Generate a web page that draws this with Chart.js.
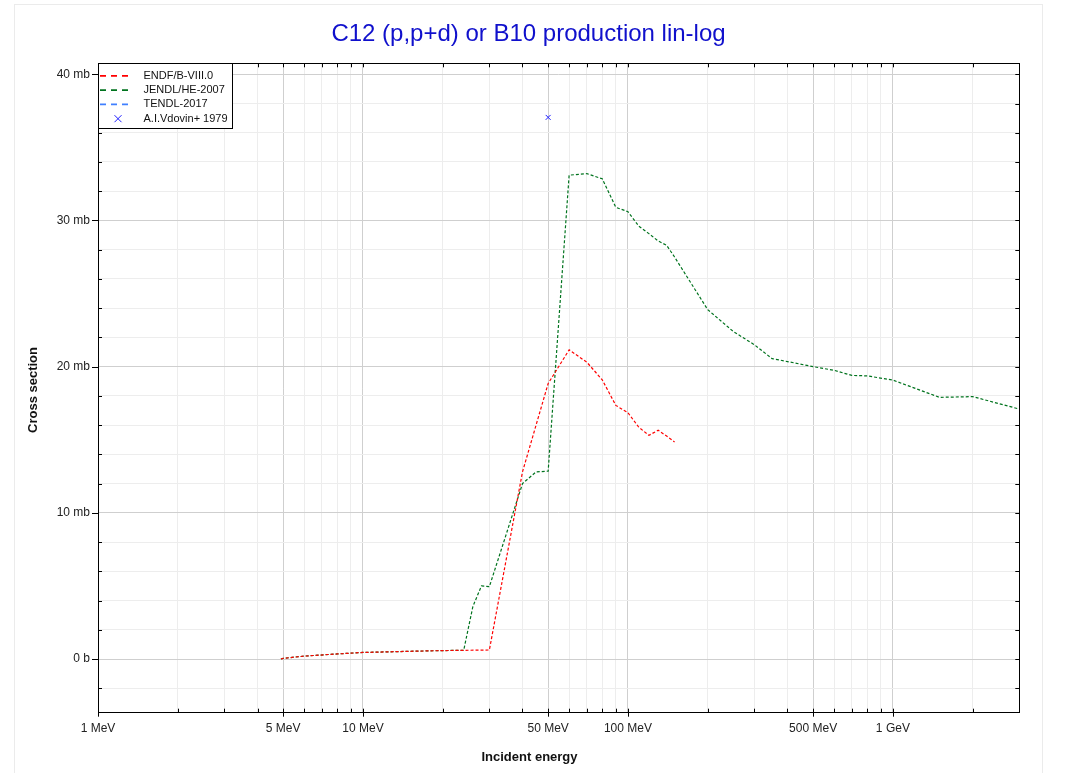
<!DOCTYPE html>
<html>
<head>
<meta charset="utf-8">
<script src="https://cdn.jsdelivr.net/npm/chart.js@4.4.1/dist/chart.umd.min.js"></script>
<style>
  html, body { margin: 0; padding: 0; background: #fff; overflow: hidden; }
  #wrap { position: absolute; left: 14px; top: 4px; width: 1027px; height: 800px; border: 1px solid #ebebeb; }
  canvas { display: block; }
</style>
</head>
<body>
<div id="wrap"><canvas id="c" width="1027" height="768"></canvas></div>
<script>
// ---- Data (energies in MeV, cross sections in mb) ----
const titleText = 'C12 (p,p+d) or B10 production lin-log';
const xAxisTitle = 'Incident energy';
const yAxisTitle = 'Cross section';

const endfLabel = 'ENDF/B-VIII.0';
const endfE  = [4.9, 5, 6, 8, 10, 15, 20, 25, 30, 40, 50, 60, 70, 80, 90, 100, 110, 120, 130, 140, 150];
const endfXS = [0, 0.05, 0.2, 0.35, 0.45, 0.53, 0.58, 0.6, 0.62, 12.8, 18.85, 21.15, 20.3, 19.1, 17.35, 16.85, 15.85, 15.3, 15.65, 15.25, 14.85];

const jendlLabel = 'JENDL/HE-2007';
const jendlE  = [4.9, 5, 6, 8, 10, 15, 20, 24, 26, 28, 30, 40, 45, 50, 60, 70, 80, 90, 100, 110, 120, 130, 140, 150, 200, 250, 300, 350, 400, 500, 600, 700, 800, 1000, 1500, 2000, 3000];
const jendlXS = [0, 0.05, 0.2, 0.35, 0.45, 0.53, 0.58, 0.6, 3.6, 5.0, 4.95, 12.0, 12.8, 12.85, 33.1, 33.2, 32.85, 30.9, 30.6, 29.6, 29.1, 28.6, 28.3, 27.5, 23.9, 22.4, 21.5, 20.55, 20.35, 20.0, 19.75, 19.4, 19.37, 19.08, 17.9, 17.95, 17.1];

const tendlLabel = 'TENDL-2017';
const tendlE  = [];
const tendlXS = [];

const vdovinLabel = 'A.I.Vdovin+ 1979';
const vdovinE  = [50];
const vdovinXS = [37.05];

const xTickValues = [1,2,3,4,5,6,7,8,9,10,20,30,40,50,60,70,80,90,100,200,300,400,500,600,700,800,900,1000,2000,3000];
const xLabeled = [1, 5, 10, 50, 100, 500, 1000];
const yTickValues = [-2,0,2,4,6,8,10,12,14,16,18,20,22,24,26,28,30,32,34,36,38,40];
const yLabeled = [0, 10, 20, 30, 40];

// ---- Styles ----
const FONT = "'Liberation Sans', Arial, Helvetica, sans-serif";
const cRed = 'rgb(255,0,0)';
const cGreen = 'rgb(0,115,30)';
const cBlue = 'rgb(64,128,255)';
const cMark = 'rgb(30,30,255)';
const gridMajor = '#cfcfcf';
const gridMinor = '#ededed';

const toXY = (xs, ys) => xs.map((x, i) => ({ x: x, y: ys[i] }));
const fmtX = v => v >= 1000 ? (v / 1000) + ' GeV' : v + ' MeV';
const fmtY = v => v === 0 ? '0 b' : v + ' mb';

const frameAndLegend = {
  id: 'frameAndLegend',
  afterDatasetsDraw(chart) {
    const ctx = chart.ctx;
    const a = chart.chartArea;
    const xs = chart.scales.x, ys = chart.scales.y;
    ctx.save();
    ctx.strokeStyle = '#000';
    ctx.lineWidth = 1;
    ctx.setLineDash([]);
    // frame
    ctx.strokeRect(Math.round(a.left) + 0.5, Math.round(a.top) + 0.5, Math.round(a.right - a.left), Math.round(a.bottom - a.top));
    // x ticks
    ctx.beginPath();
    xTickValues.forEach(v => {
      const px = Math.round(xs.getPixelForValue(v)) + 0.5;
      const major = xLabeled.includes(v);
      ctx.moveTo(px, a.bottom - 4); ctx.lineTo(px, a.bottom + (major ? 4 : 0));
      ctx.moveTo(px, a.top); ctx.lineTo(px, a.top + 4);
    });
    // y ticks
    yTickValues.forEach(v => {
      const py = Math.round(ys.getPixelForValue(v)) + 0.5;
      const major = yLabeled.includes(v);
      if (major) { ctx.moveTo(a.left - 6, py); ctx.lineTo(a.left, py); }
      else { ctx.moveTo(a.left, py); ctx.lineTo(a.left + 4, py); }
      ctx.moveTo(a.right - 4, py); ctx.lineTo(a.right, py);
    });
    ctx.stroke();

    // legend box
    const lx = Math.round(a.left) + 0.5, ly = Math.round(a.top) + 0.5;
    const lw = 134, lh = 65;
    ctx.fillStyle = '#fff';
    ctx.fillRect(lx, ly, lw, lh);
    ctx.strokeRect(lx, ly, lw, lh);
    const items = chart.data.datasets;
    ctx.font = '11px ' + FONT;
    ctx.textBaseline = 'middle';
    ctx.textAlign = 'left';
    items.forEach((ds, i) => {
      const ry = a.top + 12.5 + i * 14.3;
      if (ds.showLine === false) {
        ctx.strokeStyle = ds.borderColor;
        ctx.lineWidth = 1;
        ctx.setLineDash([]);
        const cx = a.left + 20, s = 3.5;
        ctx.beginPath();
        ctx.moveTo(cx - s, ry - s); ctx.lineTo(cx + s, ry + s);
        ctx.moveTo(cx - s, ry + s); ctx.lineTo(cx + s, ry - s);
        ctx.stroke();
      } else {
        ctx.strokeStyle = ds.borderColor;
        ctx.lineWidth = 1.8;
        ctx.setLineDash([6, 5]);
        ctx.beginPath();
        ctx.moveTo(a.left + 2, ry); ctx.lineTo(a.left + 33, ry);
        ctx.stroke();
      }
      ctx.fillStyle = '#111';
      ctx.fillText(ds.label, a.left + 45.5, ry);
    });
    ctx.restore();
  },
  afterDraw(chart) {
    const ctx = chart.ctx;
    ctx.save();
    // chart title, centred on the whole canvas
    ctx.fillStyle = '#1010cc';
    ctx.font = '24px ' + FONT;
    ctx.textAlign = 'center';
    ctx.textBaseline = 'middle';
    ctx.fillText(titleText, chart.width / 2, 29.5);
    // axis titles
    ctx.fillStyle = '#111';
    ctx.font = 'bold 13px ' + FONT;
    ctx.fillText(xAxisTitle, chart.width / 2 + 1, 752);
    ctx.translate(18, 385);
    ctx.rotate(-Math.PI / 2);
    ctx.fillText(yAxisTitle, 0, 0);
    ctx.restore();
  }
};

Chart.defaults.font.family = FONT;

new Chart(document.getElementById('c'), {
  type: 'scatter',
  data: {
    datasets: [
      { label: endfLabel, data: toXY(endfE, endfXS), showLine: true, borderColor: cRed, backgroundColor: cRed,
        borderWidth: 1.2, borderDash: [3, 2], pointRadius: 0, tension: 0 },
      { label: jendlLabel, data: toXY(jendlE, jendlXS), showLine: true, borderColor: cGreen, backgroundColor: cGreen,
        borderWidth: 1.2, borderDash: [3, 2], pointRadius: 0, tension: 0 },
      { label: tendlLabel, data: toXY(tendlE, tendlXS), showLine: true, borderColor: cBlue, backgroundColor: cBlue,
        borderWidth: 1.2, borderDash: [3, 2], pointRadius: 0, tension: 0 },
      { label: vdovinLabel, data: toXY(vdovinE, vdovinXS), showLine: false, borderColor: cMark, backgroundColor: cMark,
        pointStyle: 'crossRot', pointRadius: 3.5, borderWidth: 1 }
    ]
  },
  options: {
    responsive: false,
    animation: false,
    layout: { padding: { left: 0, right: 22.7, top: 58.3, bottom: 0 } },
    plugins: {
      legend: { display: false },
      tooltip: { enabled: false },
      title: { display: false }
    },
    scales: {
      x: {
        type: 'logarithmic', min: 1, max: 3000,
        afterBuildTicks: s => { s.ticks = xTickValues.map(v => ({ value: v })); },
        afterFit: s => { s.height = 60.3; },
        border: { display: false },
        grid: {
          drawTicks: false,
          color: c => (c.tick && xLabeled.includes(c.tick.value)) ? gridMajor : gridMinor,
          lineWidth: 1
        },
        ticks: {
          autoSkip: false, maxRotation: 0, padding: 9, color: '#222',
          font: { size: 12 },
          callback: v => xLabeled.includes(v) ? fmtX(v) : ''
        }
      },
      y: {
        type: 'linear', min: -3.67, max: 40.75,
        afterBuildTicks: s => { s.ticks = yTickValues.map(v => ({ value: v })); },
        afterFit: s => { s.width = 83; },
        border: { display: false },
        grid: {
          drawTicks: false,
          color: c => (c.tick && yLabeled.includes(c.tick.value)) ? gridMajor : gridMinor,
          lineWidth: 1
        },
        ticks: {
          autoSkip: false, padding: 8, color: '#222',
          font: { size: 12 },
          callback: v => yLabeled.includes(v) ? fmtY(v) : ''
        }
      }
    }
  },
  plugins: [frameAndLegend]
});
</script>
</body>
</html>
